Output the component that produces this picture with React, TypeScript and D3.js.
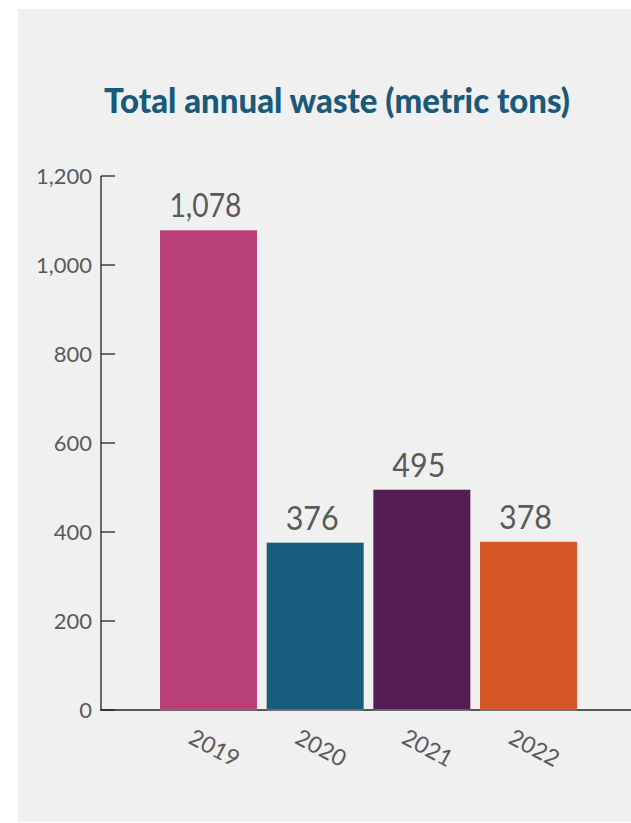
import React from "react";
import * as d3 from "d3";

const years = ["2019", "2020", "2021", "2022"];
const waste = [1078, 376, 495, 378];
const barColors = ["#b83f78", "#165c7d", "#541e54", "#d55527"];
const yTicks = [0, 200, 400, 600, 800, 1000, 1200];
const title = "Total annual waste (metric tons)";

const W = 631;
const H = 823;
const FONT = "Lato, 'Open Sans', sans-serif";
const TEXT = "#5a5a5a";

export default function App() {
  const y = d3.scaleLinear().domain([0, 1200]).range([710, 176]);
  const x = d3
    .scaleBand<string>()
    .domain(years)
    .range([101, 636])
    .paddingInner(0.091)
    .paddingOuter(0.553);
  const fmt = d3.format(",");
  return (
    <svg
      width={W}
      height={H}
      style={{ position: "absolute", left: 0, top: 0 }}
    >
      <rect x={0} y={0} width={W} height={H} fill="#ffffff" />
      <rect x={18} y={9} width={W - 18} height={813} fill="#f0f0f0" />
      <text
        x={337}
        y={113}
        textAnchor="middle"
        fontFamily={FONT}
        fontWeight={900}
        fontSize={34}
        fill="#1a5a78"
        textLength={466}
        lengthAdjust="spacingAndGlyphs"
      >
        {title}
      </text>
      {/* y axis */}
      <line x1={101} x2={101} y1={y(1200)} y2={y(0)} stroke="#222" strokeWidth={1.3} />
      {yTicks.map((t) => (
        <g key={t}>
          <line x1={101} x2={115} y1={y(t)} y2={y(t)} stroke="#222" strokeWidth={1.3} />
          <text
            x={92}
            y={y(t) + 8}
            textAnchor="end"
            fontFamily={FONT}
            fontSize={22}
            fill={TEXT}
          >
            {fmt(t)}
          </text>
        </g>
      ))}
      {/* x axis */}
      <line x1={100} x2={W} y1={y(0)} y2={y(0)} stroke="#222" strokeWidth={1.5} />
      {years.map((yr, i) => {
        const bx = x(yr)!;
        const bw = x.bandwidth();
        const cx = bx + bw / 2;
        const label = fmt(waste[i]);
        return (
          <g key={yr}>
            <rect
              x={bx}
              y={y(waste[i])}
              width={bw}
              height={y(0) - y(waste[i])}
              fill={barColors[i]}
            />
            <line x1={bx} x2={bx + bw} y1={y(0)} y2={y(0)} stroke="#777" strokeWidth={1.5} />
            <text
              x={cx - 3}
              y={y(waste[i]) - 13}
              textAnchor="middle"
              fontFamily={FONT}
              fontSize={33}
              fill={TEXT}
              textLength={label.length === 5 ? 72 : 53}
              lengthAdjust="spacingAndGlyphs"
            >
              {label}
            </text>
            <text
              transform={`translate(${cx + 2},${755}) rotate(28)`}
              textAnchor="middle"
              fontFamily={FONT}
              fontSize={23}
              fill={TEXT}
            >
              {yr}
            </text>
          </g>
        );
      })}
    </svg>
  );
}
